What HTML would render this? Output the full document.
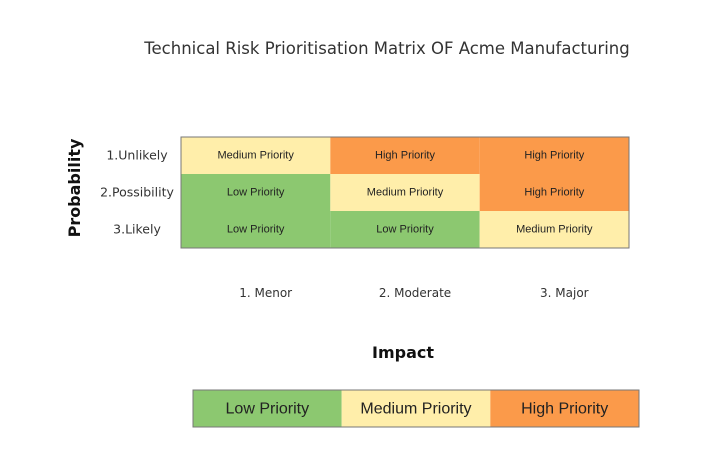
<!DOCTYPE html>
<html><head><meta charset="utf-8">
<style>
body{margin:0;background:#fff;width:716px;height:462px;overflow:hidden;font-family:"Liberation Sans",sans-serif;}
svg{display:block}
</style></head>
<body>
<svg id="chart" width="716" height="462">
<text x="387" y="54" text-anchor="middle" font-size="16.5" fill="#333" font-family="DejaVu Sans, sans-serif">Technical Risk Prioritisation Matrix OF Acme Manufacturing</text>
<text transform="translate(80,188) rotate(-90)" text-anchor="middle" font-size="16" font-weight="bold" fill="#111" font-family="DejaVu Sans, sans-serif">Probability</text>
<text x="403" y="358" text-anchor="middle" font-size="16" font-weight="bold" fill="#111" font-family="DejaVu Sans, sans-serif">Impact</text>
<g id="cells"></g>
<g id="legend"></g>
</svg>
<script>
const rowLabels = ["1.Unlikely","2.Possibility","3.Likely"];
const colLabels = ["1. Menor","2. Moderate","3. Major"];
const matrix = [
  ["Medium","High","High"],
  ["Low","Medium","High"],
  ["Low","Low","Medium"]
];
const levels = ["Low","Medium","High"];
const colors = {Low:"#8cc870",Medium:"#ffeeaa",High:"#fb9a4a"};

const NS="http://www.w3.org/2000/svg";
const gx=181, gy=137, cw=(629-181)/3, ch=37;
const xPos=i=>gx+i*cw, yPos=j=>gy+j*ch;
const cells=document.getElementById('cells');
function mk(tag,attrs,parent){const e=document.createElementNS(NS,tag);for(const k in attrs)e.setAttribute(k,attrs[k]);parent.appendChild(e);return e;}
matrix.forEach((row,j)=>{
  row.forEach((lv,i)=>{
    const r=mk('rect',{x:xPos(i),y:yPos(j),width:cw,height:ch,fill:colors[lv]},cells);
    
    
    const t=mk('text',{x:xPos(i)+cw/2,y:yPos(j)+ch/2+3,'text-anchor':'middle','font-size':'11',fill:'#222'},cells);
    t.textContent=lv+" Priority";
    
    
  });
});
const border=mk('rect',{x:gx,y:gy,width:cw*3,height:ch*3,fill:'none',stroke:'#777','stroke-width':1},cells);


rowLabels.forEach((l,j)=>{
  const t=mk('text',{x:137,y:yPos(j)+ch/2+4,'text-anchor':'middle','font-size':'12.5',fill:'#333','font-family':'DejaVu Sans, sans-serif'},cells);
  t.textContent=l;
  
  
});
colLabels.forEach((l,i)=>{
  const t=mk('text',{x:xPos(i)+cw/2+10,y:297,'text-anchor':'middle','font-size':'12',fill:'#333','font-family':'DejaVu Sans, sans-serif'},cells);
  t.textContent=l;
  
  
});
const lg=document.getElementById('legend');
const lx=193, lw=(639-193)/3, ly=390, lh=37;
levels.forEach((lv,i)=>{
  const r=mk('rect',{x:lx+i*lw,y:ly,width:lw,height:lh,fill:colors[lv]},lg);
  
  
  const t=mk('text',{x:lx+i*lw+lw/2,y:ly+lh/2+5,'text-anchor':'middle','font-size':'16',fill:'#222'},lg);
  t.textContent=lv+" Priority";
  
  
});
const lb=mk('rect',{x:lx,y:ly,width:lw*3,height:lh,fill:'none',stroke:'#777','stroke-width':1},lg);


</script>
</body></html>
